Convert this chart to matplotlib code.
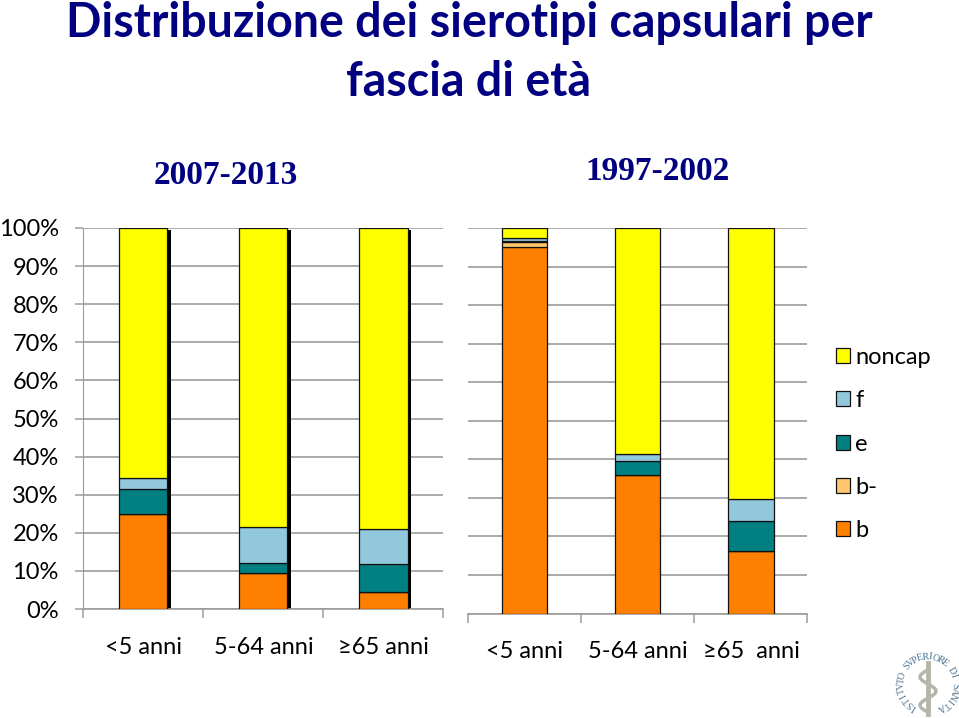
import matplotlib
matplotlib.use('Agg')
import matplotlib.pyplot as plt
import numpy as np

W, H = 959, 718
FONT = ['Lato', 'DejaVu Sans']
plt.rcParams['font.family'] = FONT

series = ['b', 'b-', 'e', 'f', 'noncap']
colors = ['#FF8000', '#FFC66E', '#008080', '#92C8DC', '#FFFF00']

ages_new = ['<5 anni', '5-64 anni', '≥65 anni']
b_new = [25.0, 9.4, 4.4]
bminus_new = [0, 0, 0]
e_new = [6.5, 2.8, 7.3]
f_new = [3.0, 9.4, 9.3]
noncap_new = [65.5, 78.4, 79.0]

ages_old = ['<5 anni', '5-64 anni', '≥65  anni']
b_old = [95.0, 35.8, 16.1]
bminus_old = [1.4, 0, 0]
e_old = [0.3, 3.8, 8.0]
f_old = [0.7, 1.9, 5.7]
noncap_old = [2.6, 58.5, 70.2]

pct_ticks = [0, 10, 20, 30, 40, 50, 60, 70, 80, 90, 100]
logo_text = 'ISTITVTO SVPERIORE DI SANITA'
GREY = '#9C9C9C'
NAVY = '#000080'


def px_axes(fig, left, right, top, bottom):
    return fig.add_axes([left/W, 1-bottom/H, (right-left)/W, (bottom-top)/H])


def stacked(ax, labels, columns, shadow=False):
    x = np.arange(3) + 0.505
    if shadow:
        total = np.sum(columns, axis=0)
        ax.bar(x + 0.028, total - 0.6, width=0.4, color='black', zorder=2)
    bottom = np.zeros(3)
    handles = []
    for vals, c, name in zip(columns, colors, series):
        vals = np.array(vals, dtype=float)
        r = ax.bar(x, vals, 0.4, bottom=bottom, color=c, edgecolor='#111111',
                   linewidth=0.9, label=name, zorder=3)
        handles.append(r)
        bottom += vals
    ax.set_xlim(0, 3)
    ax.set_ylim(0, 100)
    ax.set_yticks(pct_ticks)
    ax.yaxis.grid(True, color=GREY, lw=1.2)
    ax.set_axisbelow(True)
    ax.set_xticks([0, 1, 2, 3])
    ax.set_xticklabels([])
    ax.set_xticks(x, minor=True)
    ax.set_xticklabels(labels, minor=True, fontsize=17, color='black')
    ax.tick_params(axis='x', which='major', length=6.5, color=GREY, width=1.1)
    ax.tick_params(axis='x', which='minor', length=0, pad=20.5)
    for s in ['top', 'right']:
        ax.spines[s].set_visible(False)
    ax.spines['bottom'].set_color(GREY)
    ax.spines['bottom'].set_linewidth(1.2)
    ax.spines['left'].set_color(GREY)
    return handles


fig = plt.figure(figsize=(W/100, H/100), dpi=100)

ax1 = px_axes(fig, 82.5, 443, 228, 609)
h = stacked(ax1, ages_new, [b_new, bminus_new, e_new, f_new, noncap_new], shadow=True)
ax1.set_yticklabels(['%d%%' % v for v in pct_ticks], fontsize=17)
ax1.tick_params(axis='y', length=6, color=GREY, width=1.1, pad=11)

ax2 = px_axes(fig, 467.5, 807, 228, 613.5)
stacked(ax2, ages_old, [b_old, bminus_old, e_old, f_old, noncap_old])
ax2.spines['left'].set_visible(False)
ax2.tick_params(axis='y', length=0, labelleft=False)
ax2.tick_params(axis='x', which='minor', pad=19.5)

leg = fig.legend(h[::-1], series[::-1], loc='upper left', bbox_to_anchor=(836/W, 1-347/H),
                 frameon=False, fontsize=17, handlelength=0.6, handleheight=0.6,
                 handletextpad=0.22, labelspacing=0.945, borderpad=0, borderaxespad=0)

fig.text(469/W, 1-23/H, 'Distribuzione dei sierotipi capsulari per', ha='center', va='center',
         fontsize=33.5, fontweight='bold', color=NAVY)
fig.text(469/W, 1-82/H, 'fascia di età', ha='center', va='center',
         fontsize=33.5, fontweight='bold', color=NAVY)
fig.text(225.5/W, 1-176/H, '2007-2013', ha='center', va='center', fontsize=24,
         fontweight='bold', color=NAVY, family=['Liberation Serif'])
fig.text(657/W, 1-171.5/H, '1997-2002', ha='center', va='center', fontsize=24,
         fontweight='bold', color=NAVY, family=['Liberation Serif'])

# logo ISS: scritta in cerchio e bastone
over = fig.add_axes([0, 0, 1, 1])
over.set_xlim(0, W)
over.set_ylim(H, 0)
over.axis('off')
cx, cy, rad = 928, 684, 27
angles = np.linspace(-150, 150, len(logo_text))
for ch, a in zip(logo_text, angles):
    t = np.radians(a)
    over.text(cx + rad*np.sin(t), cy - rad*np.cos(t), ch, fontsize=7, color='#4F7391',
              ha='center', va='center', rotation=-a, family=['Liberation Serif'])
over.plot([cx, cx], [cy-21, cy+30], color='#B5B5AA', lw=3.5)
yy = np.linspace(cy-14, cy+27, 42)
over.plot(cx + 8*np.sin((yy-cy)/4.5), yy, color='#B5B5AA', lw=2.5)

fig.savefig('out.png', dpi=100)
